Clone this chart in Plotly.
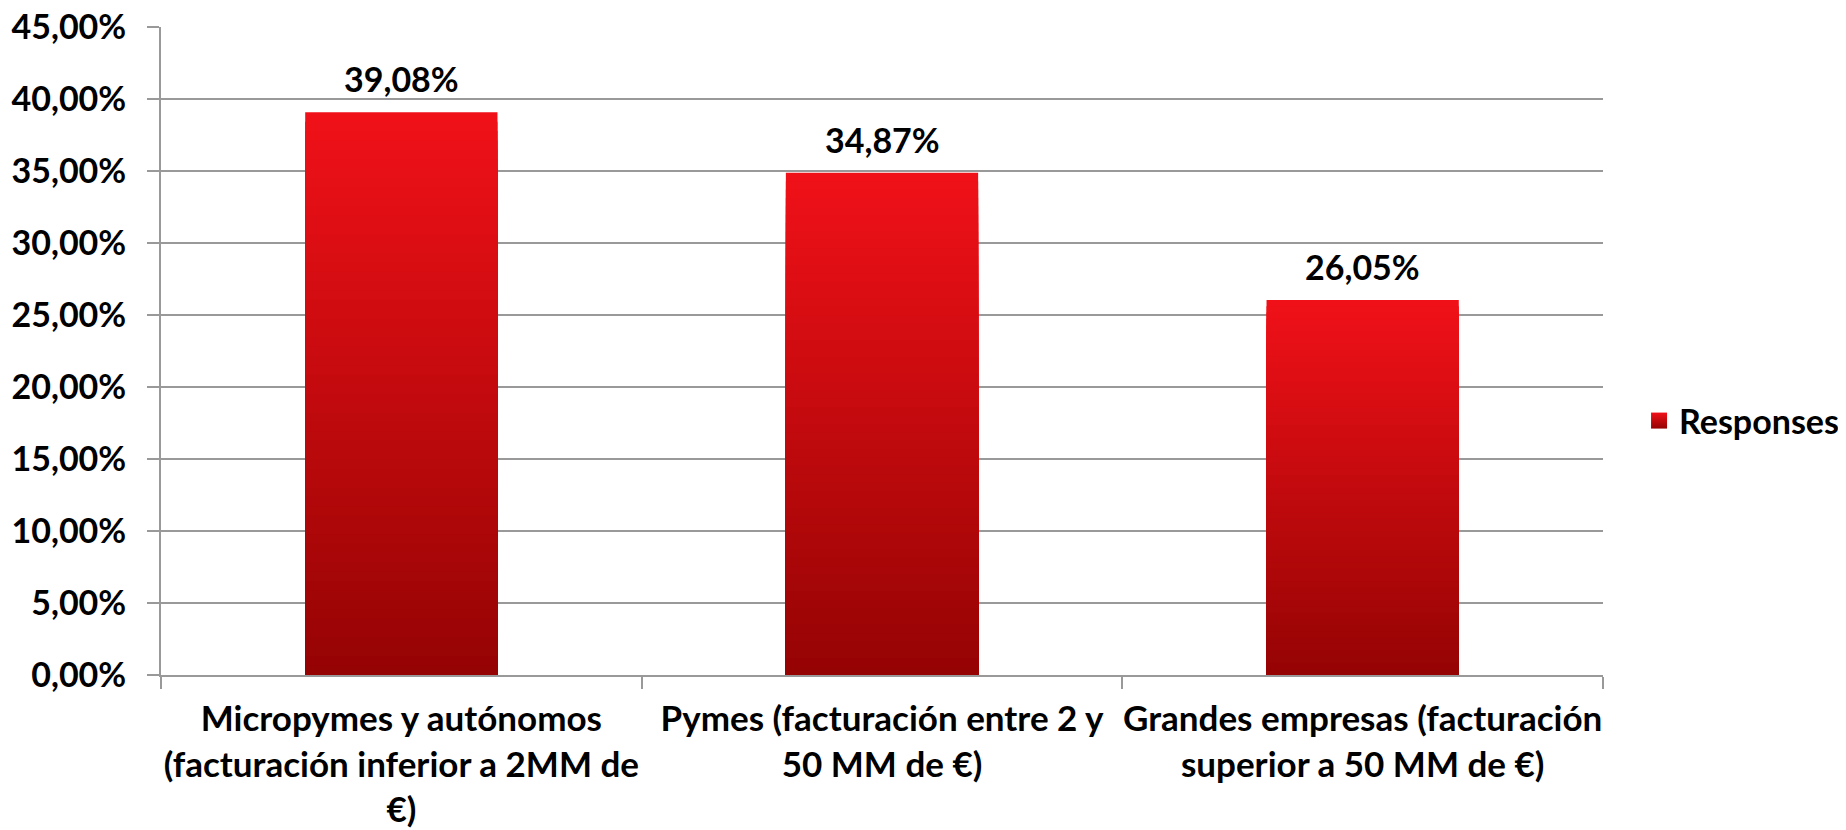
import plotly.graph_objects as go

categories = [
    "Micropymes y autónomos (facturación inferior a 2MM de €)",
    "Pymes (facturación entre 2 y 50 MM de €)",
    "Grandes empresas (facturación superior a 50 MM de €)",
]
tick_labels = [
    "Micropymes y autónomos<br>(facturación inferior a 2MM de<br>€)",
    "Pymes (facturación entre 2 y<br>50 MM de €)",
    "Grandes empresas (facturación<br>superior a 50 MM de €)",
]
values = [39.08, 34.87, 26.05]
series_name = "Responses"

FONT = "Lato"
top_rgb = (240, 17, 24)
bot_rgb = (148, 3, 3)
N = 60

def mix(f):
    return "rgb({},{},{})".format(*[round(b + (t - b) * f) for t, b in zip(top_rgb, bot_rgb)])

fig = go.Figure()
for k in range(N, 0, -1):
    f = k / N
    fig.add_trace(go.Bar(
        x=categories, y=[v * f for v in values], width=0.4,
        marker=dict(color=mix(f), line=dict(width=0)),
        showlegend=False, hoverinfo="skip",
    ))

fig.add_trace(go.Scatter(
    x=[None], y=[None], mode="markers", name=series_name,
    marker=dict(symbol="square", size=21, color=mix(1.0),
                gradient=dict(type="vertical", color=mix(0.0))),
))

for c, v in zip(categories, values):
    fig.add_annotation(
        x=c, y=v, text="{:.2f}".format(v).replace(".", ",") + "%",
        showarrow=False, yanchor="bottom", yshift=11,
        font=dict(family=FONT, size=34, color="black", weight="bold"),
    )

fig.update_layout(
    width=1846, height=830,
    barmode="overlay", bargap=0.6,
    separators=",.",
    paper_bgcolor="white", plot_bgcolor="white",
    margin=dict(l=153, r=251, t=19, b=163, autoexpand=False),
    font=dict(family=FONT, size=34, color="black"),
    legend=dict(x=1.025, xanchor="left", y=0.392, yanchor="middle",
                font=dict(family=FONT, size=34, color="black", weight="bold"),
                bgcolor="rgba(0,0,0,0)"),
)
fig.update_xaxes(
    categoryorder="array", categoryarray=categories,
    tickmode="array", tickvals=categories, ticktext=tick_labels,
    tickson="boundaries", ticks="outside", ticklen=12, tickcolor="#999999", tickwidth=2,
    showline=True, linecolor="#999999", linewidth=2,
    showgrid=False, automargin=False, ticklabelstandoff=12,
    ticklabeloverflow="allow",
    tickfont=dict(family=FONT, size=35, color="black", weight="bold"),
    tickangle=0,
)
fig.update_yaxes(
    range=[0, 45], dtick=5, tick0=0,
    tickformat=".2f", ticksuffix="%",
    ticks="outside", ticklen=12, tickcolor="#999999", tickwidth=2,
    showline=True, linecolor="#999999", linewidth=2,
    showgrid=True, gridcolor="#999999", gridwidth=2,
    zeroline=False, automargin=False, ticklabelstandoff=14,
    ticklabeloverflow="allow",
    tickfont=dict(family=FONT, size=34, color="black", weight="bold"),
)

fig.write_html("out.html")
